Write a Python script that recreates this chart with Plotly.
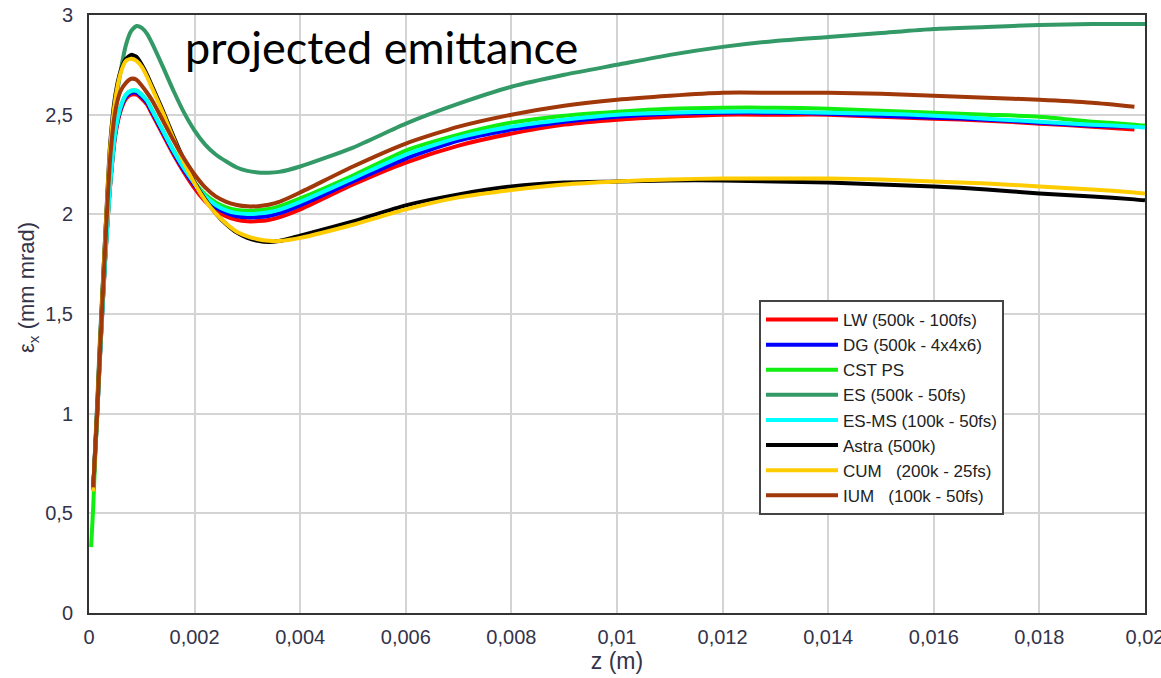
import plotly.graph_objects as go

# z positions (m)
z = [0.00004, 0.00008, 0.00012, 0.00016, 0.0002, 0.0003, 0.0004, 0.0005, 0.0006, 0.0007,
     0.0008, 0.0009, 0.001, 0.0011, 0.0012, 0.0014, 0.0016, 0.0018, 0.002, 0.0022,
     0.0024, 0.0026, 0.0028, 0.003, 0.0032, 0.0034, 0.0036, 0.004, 0.005, 0.006,
     0.007, 0.008, 0.009, 0.01, 0.011, 0.012, 0.013, 0.014, 0.015, 0.016,
     0.017, 0.018, 0.019, 0.0198, 0.02]

lw = [None, 0.62, 0.82, 1.02, 1.24, 1.74, 2.14, 2.40, 2.52, 2.58,
      2.60, 2.60, 2.58, 2.55, 2.50, 2.40, 2.30, 2.21, 2.13, 2.065,
      2.02, 1.99, 1.972, 1.965, 1.966, 1.972, 1.985, 2.025, 2.15, 2.26,
      2.345, 2.405, 2.45, 2.475, 2.49, 2.50, 2.50, 2.50, 2.49, 2.48,
      2.47, 2.455, 2.44, 2.425, None]
dg = [None, 0.62, 0.82, 1.02, 1.25, 1.75, 2.15, 2.41, 2.53, 2.59,
      2.61, 2.61, 2.59, 2.56, 2.51, 2.41, 2.31, 2.22, 2.145, 2.08,
      2.035, 2.007, 1.99, 1.985, 1.986, 1.992, 2.005, 2.045, 2.165, 2.28,
      2.37, 2.425, 2.465, 2.49, 2.505, 2.51, 2.51, 2.505, 2.495, 2.485,
      2.475, 2.46, 2.445, 2.44, None]
cst = [0.33, 0.53, 0.80, 1.02, 1.25, 1.75, 2.15, 2.42, 2.54, 2.60,
       2.62, 2.62, 2.60, 2.57, 2.52, 2.42, 2.32, 2.235, 2.16, 2.10,
       2.06, 2.035, 2.022, 2.018, 2.02, 2.027, 2.04, 2.08, 2.195, 2.32,
       2.40, 2.46, 2.495, 2.515, 2.53, 2.535, 2.535, 2.53, 2.52, 2.51,
       2.50, 2.49, 2.465, 2.45, 2.445]
es = [None, 0.62, 0.85, 1.08, 1.33, 1.85, 2.30, 2.55, 2.72, 2.85,
      2.92, 2.945, 2.935, 2.905, 2.855, 2.74, 2.62, 2.51, 2.42, 2.35,
      2.30, 2.265, 2.235, 2.218, 2.21, 2.209, 2.213, 2.24, 2.335, 2.455,
      2.555, 2.64, 2.70, 2.75, 2.80, 2.84, 2.87, 2.89, 2.91, 2.93,
      2.94, 2.95, 2.955, 2.955, 2.955]
esms = [None, 0.62, 0.82, 1.02, 1.25, 1.75, 2.15, 2.42, 2.54, 2.60,
        2.62, 2.62, 2.60, 2.57, 2.52, 2.42, 2.32, 2.23, 2.155, 2.09,
        2.047, 2.02, 2.006, 2.002, 2.004, 2.01, 2.022, 2.062, 2.18, 2.30,
        2.385, 2.44, 2.475, 2.50, 2.51, 2.515, 2.515, 2.51, 2.505, 2.495,
        2.48, 2.465, 2.45, 2.44, 2.435]
astra = [None, 0.62, 0.84, 1.05, 1.30, 1.85, 2.35, 2.60, 2.72, 2.78,
         2.80, 2.79, 2.75, 2.70, 2.64, 2.52, 2.39, 2.27, 2.16, 2.075,
         2.005, 1.95, 1.908, 1.882, 1.867, 1.861, 1.866, 1.893, 1.965, 2.045,
         2.10, 2.14, 2.16, 2.165, 2.17, 2.17, 2.165, 2.16, 2.15, 2.14,
         2.125, 2.105, 2.09, 2.075, 2.07]
cum = [None, 0.61, 0.83, 1.04, 1.29, 1.84, 2.33, 2.58, 2.71, 2.77,
       2.78, 2.77, 2.74, 2.69, 2.63, 2.51, 2.38, 2.26, 2.155, 2.07,
       2.005, 1.953, 1.913, 1.89, 1.875, 1.867, 1.866, 1.882, 1.948, 2.025,
       2.085, 2.122, 2.15, 2.165, 2.175, 2.18, 2.18, 2.18, 2.175, 2.165,
       2.155, 2.14, 2.125, 2.11, 2.105]
ium = [None, 0.63, 0.83, 1.03, 1.27, 1.80, 2.28, 2.52, 2.62, 2.66,
       2.68, 2.675, 2.645, 2.61, 2.57, 2.47, 2.37, 2.28, 2.20, 2.135,
       2.09, 2.063, 2.047, 2.04, 2.041, 2.048, 2.062, 2.11, 2.24, 2.355,
       2.44, 2.50, 2.545, 2.575, 2.595, 2.61, 2.61, 2.61, 2.605, 2.595,
       2.585, 2.575, 2.56, 2.54, None]

names = ["LW (500k - 100fs)", "DG (500k - 4x4x6)", "CST PS", "ES (500k - 50fs)",
         "ES-MS (100k - 50fs)", "Astra (500k)", "CUM   (200k - 25fs)", "IUM   (100k - 50fs)"]
series = [lw, dg, cst, es, esms, astra, cum, ium]
colors = ["#ff0000", "#0000ff", "#11ee11", "#339966", "#00ffff", "#000000", "#ffcc00", "#a0380a"]

x_ticks = [0, 0.002, 0.004, 0.006, 0.008, 0.01, 0.012, 0.014, 0.016, 0.018, 0.02]
x_labels = ["0", "0,002", "0,004", "0,006", "0,008", "0,01", "0,012", "0,014", "0,016", "0,018", "0,02"]
y_ticks = [0, 0.5, 1, 1.5, 2, 2.5, 3]
y_labels = ["0", "0,5", "1", "1,5", "2", "2,5", "3"]

FONT = "Liberation Sans, Arial, sans-serif"
TXT = "#33334a"

fig = go.Figure()
for name, ys, col in zip(names, series, colors):
    fig.add_trace(go.Scatter(x=z, y=ys, name=name, mode="lines",
                             line=dict(color=col, width=4, shape="spline", smoothing=0.6),
                             connectgaps=False))

tickfont = dict(family=FONT, size=20, color=TXT)

fig.update_layout(
    width=1161, height=678,
    margin=dict(l=89, r=16, t=15, b=65, autoexpand=False),
    paper_bgcolor="white", plot_bgcolor="white",
    showlegend=True,
    legend=dict(x=(759 - 89) / 1056, y=(613 - 300) / 598, xanchor="left", yanchor="top",
                bgcolor="white", bordercolor="#444444", borderwidth=2,
                font=dict(family=FONT, size=17, color="#222222"),
                itemwidth=72, tracegroupgap=0),
    xaxis=dict(range=[0, 0.0200001], tickvals=x_ticks, ticktext=x_labels, tickfont=tickfont,
               showgrid=True, gridcolor="#d4d4d4", gridwidth=1.5, zeroline=False,
               showline=True, linecolor="#333333", linewidth=2, mirror=True,
               ticks="", ticklabelstandoff=5, ticklabeloverflow="allow",
               title=dict(text="z (m)", font=dict(family=FONT, size=23, color=TXT), standoff=6)),
    yaxis=dict(range=[0, 3], tickvals=y_ticks, ticktext=y_labels, tickfont=tickfont,
               showgrid=True, gridcolor="#d4d4d4", gridwidth=1.5, zeroline=False,
               showline=True, linecolor="#333333", linewidth=2, mirror=True,
               ticks="", ticklabelstandoff=10, ticklabeloverflow="allow"),
)

fig.add_annotation(text="projected emittance", xref="paper", yref="paper",
                   x=(183 - 89) / 1056, y=(613 - 47) / 598, xanchor="left", yanchor="middle",
                   showarrow=False, font=dict(family="Lato, Open Sans, sans-serif", size=45, color="#000000"))
fig.add_annotation(text="ε<sub>x</sub> (mm mrad)", xref="paper", yref="paper",
                   x=(28 - 89) / 1056, y=(613 - 288) / 598, xanchor="center", yanchor="middle",
                   textangle=-90, showarrow=False,
                   font=dict(family=FONT, size=22, color=TXT))

fig.write_html("out.html")
